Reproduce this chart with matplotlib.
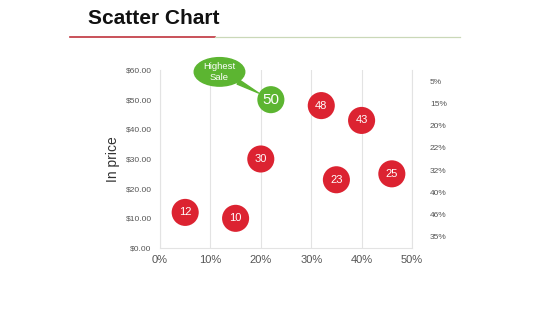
import matplotlib
matplotlib.use("Agg")
from matplotlib import pyplot as plt
from matplotlib.lines import Line2D
from matplotlib.path import Path
from matplotlib.transforms import Affine2D
from matplotlib.ticker import FuncFormatter

# Data
share = [5, 15, 20, 22, 32, 40, 35, 46]          # x, percent
price = [12, 10, 30, 50, 48, 43, 23, 25]         # y, dollars
labels = [12, 10, 30, 50, 48, 43, 23, 25]
highlight = 50
right_labels = ["5%", "15%", "20%", "22%", "32%", "40%", "46%", "35%"]

RED = "#dc2331"
GREEN = "#5cb531"
GRID = "#e3e3e3"
TICK = "#555555"

plt.rcParams['font.family'] = ['Liberation Sans', 'DejaVu Sans']


# Ellipse-shaped box for the callout
def ellipse_box(x0, y0, width, height, mutation_size):
    pad = 0.35 * mutation_size
    w, h = width + 2 * pad, height + pad
    t = Affine2D().scale(w / 2 * 1.3, h / 2 * 1.2).translate(x0 + width / 2, y0 + height / 2)
    return t.transform_path(Path.unit_circle())


fig = plt.figure(figsize=(5.6, 3.15), dpi=100)
ax = fig.add_axes([0.2857, 0.2127, 0.45, 0.5651])

# Bubbles
colors = [GREEN if lab == highlight else RED for lab in labels]
ax.scatter(share, price, s=380, c=colors, linewidths=0, zorder=3)
for x, y, lab in zip(share, price, labels):
    big = lab == highlight
    ax.text(x, y, str(lab), color="white", ha="center", va="center",
            fontsize=11 if big else 8, zorder=4)

# Callout on the highest sale
i = labels.index(highlight)
ax.annotate("Highest\nSale", xy=(share[i], price[i]), xytext=(-37, 20),
            textcoords="offset points", ha="center", va="center",
            color="white", fontsize=6.8, zorder=5, linespacing=1.35,
            bbox=dict(boxstyle=ellipse_box, fc=GREEN, ec=GREEN),
            arrowprops=dict(arrowstyle="wedge,tail_width=0.5,shrink_factor=0.5",
                            fc=GREEN, ec=GREEN, shrinkB=10, shrinkA=0))

ax.set_xlim(0, 50)
ax.set_ylim(0, 60)
ax.set_xticks(range(0, 51, 10))
ax.set_yticks(range(0, 61, 10))
ax.xaxis.set_major_formatter(FuncFormatter(lambda v, p: f"{v:.0f}%"))
ax.yaxis.set_major_formatter(FuncFormatter(lambda v, p: f"${v:.2f}"))
ax.tick_params(axis="x", length=0, labelsize=8, colors=TICK, pad=5)
ax.tick_params(axis="y", length=0, labelsize=6, colors=TICK, pad=6)
ax.grid(axis="x", color=GRID, linewidth=0.8)
for side in ["left", "bottom", "right"]:
    ax.spines[side].set_color(GRID)
ax.spines["top"].set_visible(False)
ax.set_ylabel("In price", fontsize=10, color="#333333", labelpad=4)

# Right-hand labels
ax2 = ax.twinx()
ax2.set_ylim(len(right_labels), 0)
ax2.set_yticks([k + 0.5 for k in range(len(right_labels))])
ax2.set_yticklabels(right_labels)
ax2.tick_params(axis="y", length=0, labelsize=6, colors=TICK, pad=13)
for side in ax2.spines:
    ax2.spines[side].set_visible(False)

# Title and rule
fig.text(88 / 560, 1 - 18 / 315, "Scatter Chart", fontsize=15, fontweight="bold",
         va="center", ha="left", color="#111111")
fig.add_artist(Line2D([70 / 560, 215 / 560], [1 - 37 / 315] * 2, color="#c0343d", linewidth=1.2))
fig.add_artist(Line2D([215 / 560, 460 / 560], [1 - 37 / 315] * 2, color="#cad8b8", linewidth=0.9))

fig.savefig("out.png", dpi=100)
